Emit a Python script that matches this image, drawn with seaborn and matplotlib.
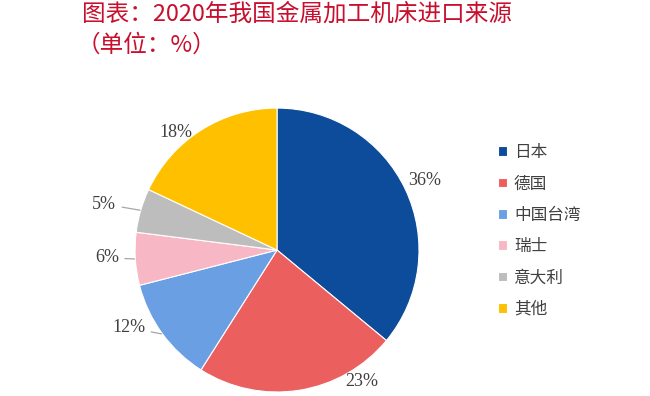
import matplotlib
matplotlib.use("Agg")
import matplotlib.pyplot as plt
import seaborn as sns
import numpy as np

countries = ["日本", "德国", "中国台湾", "瑞士", "意大利", "其他"]
shares = [36, 23, 12, 6, 5, 18]
colors = ["#0c4c9b", "#ec5f5f", "#6a9fe3", "#f7b7c4", "#bdbdbd", "#ffc000"]

# label placement (angle offset in degrees, radius) relative to wedge middle
label_pos = [(0, 1.15), (24, 1.10), (-8.4, 1.18), (-1, 1.20), (1.3, 1.26), (8.4, 1.09)]
leader = [False, False, True, True, True, False]

sns.set_theme(style="white")
plt.rcParams["font.family"] = ["Noto Sans CJK SC", "DejaVu Sans"]

fig = plt.figure(figsize=(6.5, 3.96), dpi=100)
ax = fig.add_axes([0.2077, 0.0101, 0.437, 0.717])

wedges, _ = ax.pie(shares, colors=colors, startangle=90, counterclock=False,
                   wedgeprops=dict(edgecolor="white", linewidth=0.8))
ax.set_xlim(-1, 1)
ax.set_ylim(-1, 1)
ax.set_aspect("equal")

for w, v, (dang, r), lead in zip(wedges, shares, label_pos, leader):
    mid = np.deg2rad((w.theta1 + w.theta2) / 2)
    ang = mid + np.deg2rad(dang)
    tx, ty = r * np.cos(ang), r * np.sin(ang)
    if lead:
        ex, ey = 1.005 * np.cos(mid), 1.005 * np.sin(mid)
        ax.annotate(f"{v}%", xy=(ex, ey), xytext=(tx, ty),
                    ha="center", va="center", fontsize=13, color="#404040",
                    family="Liberation Serif", annotation_clip=False,
                    arrowprops=dict(arrowstyle="-", color="#a6a6a6", lw=0.9,
                                    shrinkA=2, shrinkB=0))
    else:
        ax.text(tx, ty, f"{v}%", ha="center", va="center", fontsize=13,
                color="#404040", family="Liberation Serif", clip_on=False)

fig.legend(wedges, countries, loc="upper left", bbox_to_anchor=(0.743, 0.674),
           frameon=False, fontsize=12, handlelength=0.54, handleheight=0.54,
           handletextpad=0.42, labelspacing=0.86, labelcolor="#404040")

fig.text(0.126, 0.965, "图表：2020年我国金属加工机床进口来源", fontsize=17,
         color="#c8102e", va="center", ha="left")
fig.text(0.118, 0.886, "（单位：%）", fontsize=17, color="#c8102e",
         va="center", ha="left")

fig.savefig("out.png", dpi=100)
